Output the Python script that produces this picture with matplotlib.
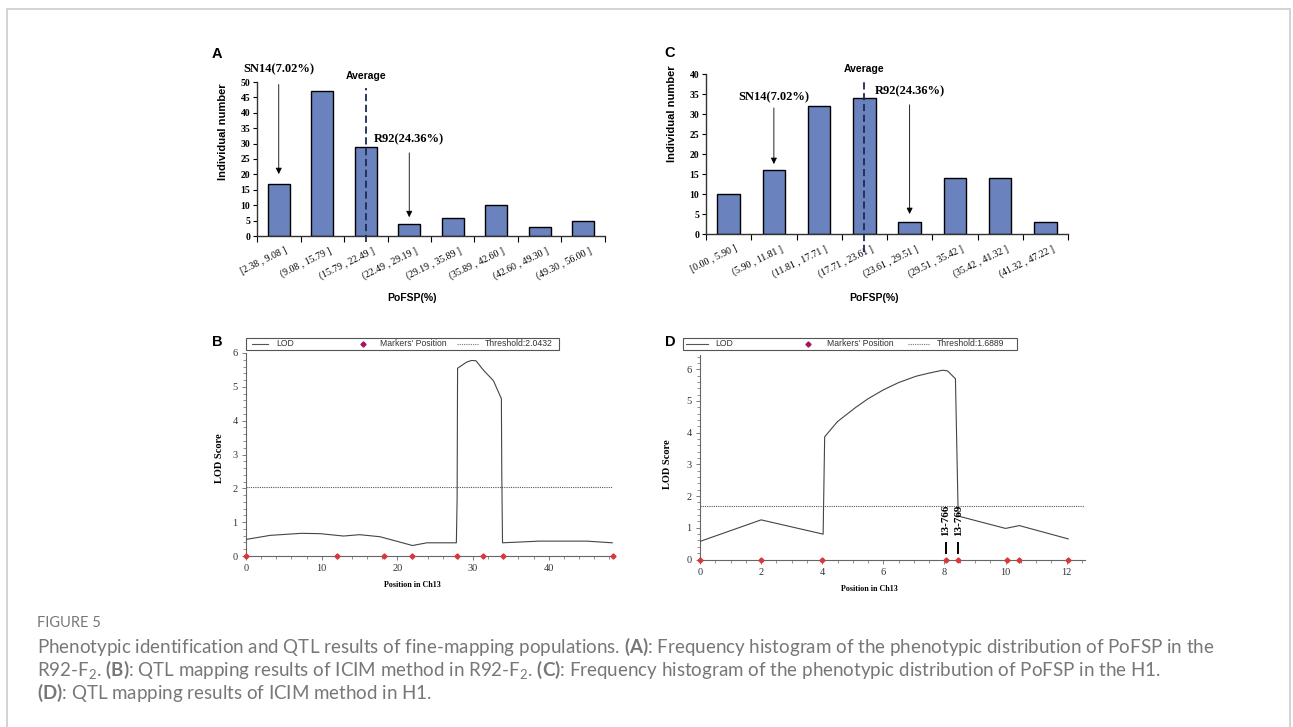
import numpy as np
import matplotlib
matplotlib.use('Agg')
import matplotlib.pyplot as plt
from matplotlib.lines import Line2D
from matplotlib.patches import Rectangle
from matplotlib.transforms import ScaledTranslation
from matplotlib.ticker import MultipleLocator

plt.rcParams['font.family'] = ['Liberation Sans', 'DejaVu Sans']
plt.rcParams['mathtext.fontset'] = 'custom'
plt.rcParams['mathtext.rm'] = 'Lato'
plt.rcParams['mathtext.bf'] = 'Lato:bold'
plt.rcParams['mathtext.it'] = 'Lato:italic'

SERIF = 'Liberation Serif'

# --- data ---
hist_a_labels = ['[2.38 , 9.08 ]', '(9.08 , 15.79 ]', '(15.79 , 22.49 ]', '(22.49 , 29.19 ]',
                 '(29.19 , 35.89 ]', '(35.89 , 42.60 ]', '(42.60 , 49.30 ]', '(49.30 , 56.00 ]']
hist_a_counts = [17, 47, 29, 4, 6, 10, 3, 5]
avg_a = 2.0          # bin position of the population average
sn14_a = 0           # bin of SN14 (7.02%)
r92_a = 3            # bin of R92 (24.36%)

hist_c_labels = ['[0.00 , 5.90 ]', '(5.90 , 11.81 ]', '(11.81 , 17.71 ]', '(17.71 , 23.61 ]',
                 '(23.61 , 29.51 ]', '(29.51 , 35.42 ]', '(35.42 , 41.32 ]', '(41.32 , 47.22 ]']
hist_c_counts = [10, 16, 32, 34, 3, 14, 14, 3]
avg_c = 3.0
sn14_c = 1
r92_c = 4

lod_b_pos = [0, 3.2, 7.3, 9.8, 12.9, 15.0, 17.7, 22.0, 23.9, 27.8, 27.9, 27.96,
             29.15, 29.8, 30.4, 31.35, 32.7, 33.75, 33.8, 33.9, 38.8, 45.0, 48.4]
lod_b_val = [0.49, 0.61, 0.67, 0.66, 0.59, 0.63, 0.57, 0.31, 0.39, 0.39, 1.7, 5.55,
             5.73, 5.78, 5.77, 5.5, 5.18, 4.65, 2.5, 0.39, 0.44, 0.44, 0.39]
markers_b = [0, 12.0, 18.2, 22.0, 27.9, 31.3, 33.9, 48.5]
thr_b = 2.0432

lod_d_pos = [0, 2.0, 4.03, 4.08, 4.5, 5.1, 5.5, 6.0, 6.5, 7.07, 7.5, 7.94, 8.1, 8.36,
             8.45, 10.0, 10.45, 12.05]
lod_d_val = [0.57, 1.25, 0.8, 3.87, 4.35, 4.8, 5.07, 5.35, 5.58, 5.78, 5.88, 5.97, 5.95,
             5.7, 1.37, 0.98, 1.07, 0.65]
markers_d = [0, 2.0, 4.0, 8.05, 8.45, 10.05, 10.45, 12.05]
marker_names_d = ['13-766', '13-769']
thr_d = 1.6889

W, H = 1293, 727
fig = plt.figure(figsize=(W / 100, H / 100), dpi=100)


def box(x0, y0, x1, y1):
    return [x0 / W, 1 - y1 / H, (x1 - x0) / W, (y1 - y0) / H]


def fx(x):
    return x / W


def fy(y):
    return 1 - y / H


# outer frame
fig.patches.append(Rectangle((7 / W, -0.1), (1290 - 7) / W, 1 - 9 / H + 0.1,
                             transform=fig.transFigure, fill=False,
                             edgecolor='#cccccc', lw=1.2))


def histogram(rect, labels, counts, ymax, avg, sn14, sn14_y, r92, r92_y,
              avg_top, avg_bot, avg_txt):
    ax = fig.add_axes(rect)
    x = np.arange(len(counts))
    ax.bar(x, counts, width=0.5, color='#6a83be', edgecolor='black', linewidth=1.0)
    ax.set_xlim(-0.5, len(counts) - 0.5)
    ax.set_ylim(0, ymax)
    for s in ['top', 'right']:
        ax.spines[s].set_visible(False)
    for s in ['left', 'bottom']:
        ax.spines[s].set_color('#333333')
        ax.spines[s].set_linewidth(1.0)
    ax.yaxis.set_major_locator(MultipleLocator(5))
    ax.tick_params(axis='y', length=3, width=0.8, pad=2, labelsize=7)
    for t in ax.get_yticklabels():
        t.set_fontfamily(SERIF)
        t.set_fontweight('bold')
    ax.set_xticks(x)
    ax.set_xticks(np.arange(-0.5, len(counts), 1.0), minor=True)
    ax.tick_params(axis='x', which='major', length=0, pad=7)
    ax.tick_params(axis='x', which='minor', length=4, width=0.8)
    ax.set_xticklabels(labels, rotation=26, ha='right', va='top',
                       rotation_mode='anchor', fontsize=7, fontfamily=SERIF)
    off = ScaledTranslation(6 / 100, 0, fig.dpi_scale_trans)
    for t in ax.get_xticklabels():
        t.set_transform(t.get_transform() + off)

    ax.plot([avg, avg], [avg_bot, avg_top], ls=(0, (4, 2)), color='#1c2b55',
            lw=1.3, clip_on=False, zorder=5)
    ax.text(avg, avg_txt, 'Average', ha='center', va='center', fontsize=7.5,
            fontweight='bold')

    ax.text(sn14, sn14_y[0], 'SN14(7.02%)', ha='center', va='center', fontsize=9,
            fontweight='bold', fontfamily=SERIF)
    ax.annotate('', xy=(sn14, sn14_y[2]), xytext=(sn14, sn14_y[1]),
                arrowprops=dict(arrowstyle='-|>', color='black', lw=0.6,
                                mutation_scale=9), annotation_clip=False)
    ax.text(r92, r92_y[0], 'R92(24.36%)', ha='center', va='center', fontsize=9,
            fontweight='bold', fontfamily=SERIF)
    ax.annotate('', xy=(r92, r92_y[2]), xytext=(r92, r92_y[1]),
                arrowprops=dict(arrowstyle='-|>', color='black', lw=0.6,
                                mutation_scale=9), annotation_clip=False)
    return ax


histogram(box(257, 82, 605, 236), hist_a_labels, hist_a_counts, 50, avg_a,
          sn14_a, (54.2, 50.1, 19.2), r92_a, (31.5, 27.9, 5.2), 48.0, -2.0, 51.9)
histogram(box(706, 74, 1068, 234), hist_c_labels, hist_c_counts, 40, avg_c,
          sn14_c, (34.25, 32.2, 16.8), r92_c, (35.6, 33.0, 4.3), 38.5, -4.5, 41.25)

fig.text(fx(223), fy(132), 'Individual number', rotation=90, ha='center',
         va='center', fontsize=8, fontweight='bold')
fig.text(fx(672), fy(114), 'Individual number', rotation=90, ha='center',
         va='center', fontsize=8, fontweight='bold')
fig.text(fx(412), fy(298), 'PoFSP(%)', ha='center', va='center', fontsize=7.5,
         fontweight='bold')
fig.text(fx(874), fy(298), 'PoFSP(%)', ha='center', va='center', fontsize=7.5,
         fontweight='bold')


def legend_box(frame, line_x, lod_x, mark_x, mark_txt_x, dot_x, thr_x, thr):
    x0, y0, x1, y1 = frame
    yc = fy((y0 + y1) / 2)
    fig.patches.append(Rectangle((fx(x0), fy(y1)), fx(x1) - fx(x0), fy(y0) - fy(y1),
                                 transform=fig.transFigure, fill=False,
                                 edgecolor='#555555', lw=0.8))
    fig.add_artist(Line2D([fx(line_x[0]), fx(line_x[1])], [yc, yc],
                          color='#555555', lw=0.8))
    fig.text(fx(lod_x), yc, 'LOD', ha='left', va='center', fontsize=6.2,
             color='#333333')
    fig.add_artist(Line2D([fx(mark_x)], [yc], ls='none', marker='D', ms=2.6,
                          color='#a0185a'))
    fig.text(fx(mark_txt_x), yc, "Markers' Position", ha='left', va='center',
             fontsize=6.2, color='#333333')
    fig.add_artist(Line2D([fx(dot_x[0]), fx(dot_x[1])], [yc, yc],
                          color='#777777', lw=0.8, ls=(0, (1, 1))))
    fig.text(fx(thr_x), yc, 'Threshold:%s' % thr, ha='left', va='center',
             fontsize=6.2, color='#333333')


def lod_panel(rect, pos, val, markers, thr, xmax, ymax, xmaj, xmin):
    ax = fig.add_axes(rect)
    ax.plot(pos, val, color='#444444', lw=0.8, zorder=3)
    ax.axhline(thr, color='#555555', lw=0.8, ls=(0, (1, 1)), zorder=2)
    ax.plot(markers, np.zeros(len(markers)), ls='none', marker='D', ms=2.6,
            color='#d9383a', clip_on=False, zorder=4)
    ax.set_xlim(0, xmax)
    ax.set_ylim(0, ymax)
    for s in ['top', 'right']:
        ax.spines[s].set_visible(False)
    for s in ['left', 'bottom']:
        ax.spines[s].set_color('#666666')
        ax.spines[s].set_linewidth(0.8)
    ax.xaxis.set_major_locator(MultipleLocator(xmaj))
    ax.xaxis.set_minor_locator(MultipleLocator(xmin))
    ax.yaxis.set_major_locator(MultipleLocator(1))
    ax.yaxis.set_minor_locator(MultipleLocator(0.2))
    ax.tick_params(which='major', length=3, width=0.6, color='#666666',
                   labelsize=7.5, labelcolor='#333333', pad=3)
    ax.tick_params(which='minor', length=2, width=0.5, color='#666666')
    for t in ax.get_xticklabels() + ax.get_yticklabels():
        t.set_fontfamily(SERIF)
    return ax


lod_panel(box(246, 353, 613, 556), lod_b_pos, lod_b_val, markers_b, thr_b,
          48.5, 6, 10, 2)
legend_box((246, 338, 559, 350), (252, 268), 276, 363, 380, (457, 478), 485, thr_b)
ax_d = lod_panel(box(700, 355, 1085, 559.5), lod_d_pos, lod_d_val, markers_d, thr_d,
                 12.6, 6.45, 2, 0.5)
legend_box((683, 338, 1017, 350), (686, 708), 715, 808, 827, (908, 930), 937, thr_d)

# marker names in D
for xm, nm in zip(markers_d[3:5], marker_names_d):
    ax_d.text(xm, 1.72, nm, rotation=90, ha='center', va='top', fontsize=8,
              fontweight='bold', fontfamily=SERIF)
    ax_d.plot([xm, xm], [0.2, 0.52], color='black', lw=1.4)

fig.text(fx(219), fy(458), 'LOD Score', rotation=90, ha='center', va='center',
         fontsize=7.5, fontweight='bold', fontfamily=SERIF)
fig.text(fx(667), fy(464), 'LOD Score', rotation=90, ha='center', va='center',
         fontsize=7.5, fontweight='bold', fontfamily=SERIF)
fig.text(fx(412), fy(585), 'Position in Ch13', ha='center', va='center',
         fontsize=5.8, fontweight='bold', fontfamily=SERIF)
fig.text(fx(869), fy(589), 'Position in Ch13', ha='center', va='center',
         fontsize=5.8, fontweight='bold', fontfamily=SERIF)

# panel letters
for lx, ly, letter in [(217, 54, 'A'), (670, 53, 'C'), (217, 342, 'B'), (670, 342, 'D')]:
    fig.text(fx(lx), fy(ly), letter, ha='center', va='center', fontsize=10.5,
             fontweight='bold')

# caption
fig.text(fx(37), fy(623), 'FIGURE 5', ha='left', va='center', fontsize=10.5,
         color='#777777', fontfamily='Lato')
cap_lines = [
    r'Phenotypic identification and QTL results of fine-mapping populations. '
    r'$\mathbf{(A)}$: Frequency histogram of the phenotypic distribution of PoFSP in the',
    r'R92-F$_{2}$. $\mathbf{(B)}$: QTL mapping results of ICIM method in R92-F$_{2}$. '
    r'$\mathbf{(C)}$: Frequency histogram of the phenotypic distribution of PoFSP in the H1.',
    r'$\mathbf{(D)}$: QTL mapping results of ICIM method in H1.',
]
for i, line in enumerate(cap_lines):
    fig.text(fx(37), fy(647 + 23 * i), line, ha='left', va='center',
             fontsize=13.5, color='#777777', fontfamily='Lato')

fig.savefig('out.png', dpi=100)
